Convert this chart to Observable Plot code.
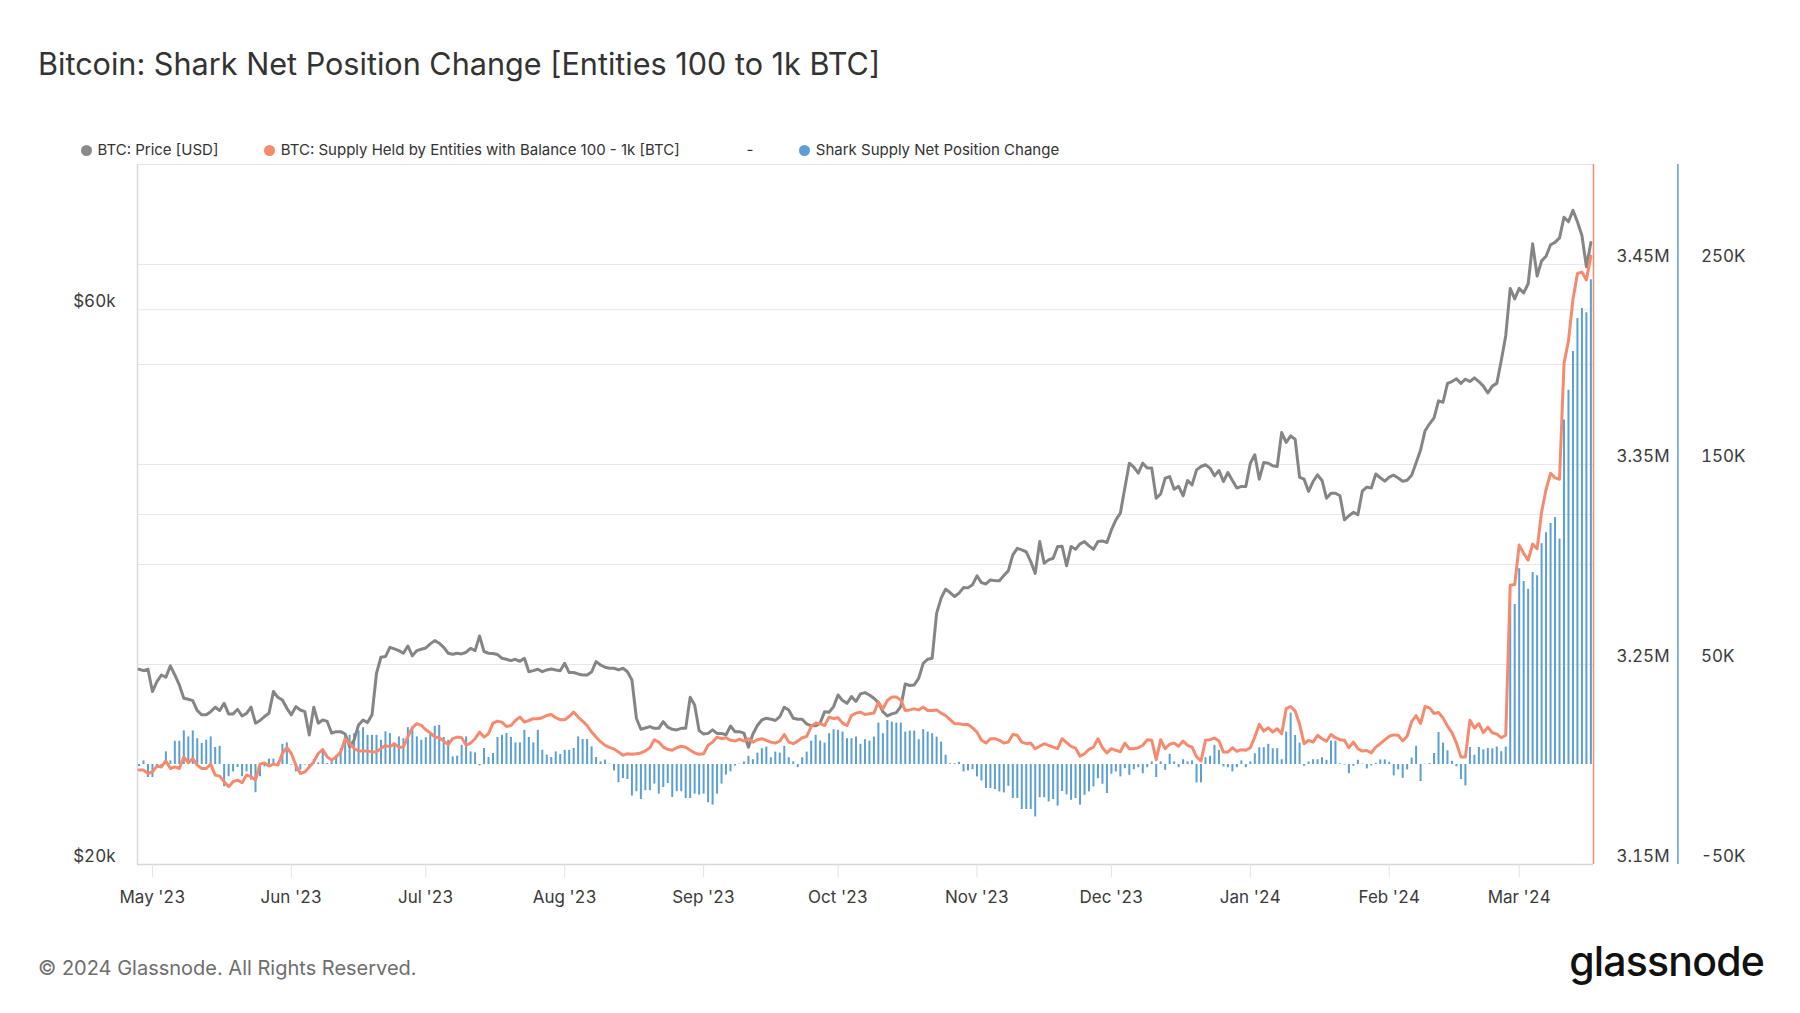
<!DOCTYPE html>
<html>
<head>
<meta charset="utf-8">
<script src="https://cdn.jsdelivr.net/npm/d3@7"></script>
<script src="https://cdn.jsdelivr.net/npm/@observablehq/plot@0.6"></script>
<style>
  html, body { margin: 0; padding: 0; background: #fff; }
  #page { position: relative; width: 1800px; height: 1013px; background: #fff; font-family: Inter, "Noto Sans", sans-serif; overflow: hidden; }
  #title { position: absolute; left: 38px; top: 46px; font-size: 30.6px; line-height: 36px; color: #333; white-space: nowrap; }
  .lg { position: absolute; top: 140px; height: 20px; line-height: 20px; font-size: 15px; color: #333; white-space: nowrap; }
  .dot { position: absolute; top: 4.5px; width: 11px; height: 11px; border-radius: 50%; }
  #chart { position: absolute; left: 0; top: 130px; }
  #footer { position: absolute; left: 38px; top: 954px; font-size: 20px; line-height: 28px; color: #6e6e6e; white-space: nowrap; }
  #logo { position: absolute; right: 36px; top: 936px; font-size: 41px; line-height: 50px; font-weight: 500; letter-spacing: -0.8px; color: #111; }
</style>
</head>
<body>
<div id="page">
  <div id="title">Bitcoin: Shark Net Position Change [Entities 100 to 1k BTC]</div>
  <div id="legend"></div>
  <div id="chart"></div>
  <div id="footer">© 2024 Glassnode. All Rights Reserved.</div>
  <div id="logo">glassnode</div>
</div>
<script>
// ---- data: daily values, 2023-04-28 .. 2024-03-17 ----
const startDate = "2023-04-28";
const endDateExclusive = "2024-03-18";

// BTC price, thousand USD
const priceK = [
  29.44, 29.36, 29.44, 28.17, 28.73, 29.11, 28.98, 29.64, 29.11, 28.54,
  27.80, 27.74, 27.67, 27.13, 26.90, 26.90, 27.07, 27.31, 27.13, 27.52,
  26.95, 26.95, 27.20, 26.84, 26.98, 27.31, 26.46, 26.60, 26.81, 26.98,
  28.17, 27.85, 27.70, 27.25, 26.90, 27.34, 27.16, 27.07, 25.85, 27.31,
  26.46, 26.63, 26.55, 25.94, 26.02, 26.02, 25.90, 25.26, 25.59, 26.37,
  26.63, 26.49, 26.90, 29.21, 30.15, 30.19, 30.75, 30.65, 30.55, 30.39,
  30.83, 30.23, 30.55, 30.63, 30.71, 30.96, 31.16, 31.00, 30.75, 30.39,
  30.33, 30.39, 30.35, 30.45, 30.69, 30.55, 31.45, 30.49, 30.39, 30.37,
  30.31, 30.09, 30.03, 29.95, 30.03, 29.91, 30.09, 29.30, 29.36, 29.44,
  29.30, 29.40, 29.46, 29.40, 29.36, 29.79, 29.25, 29.25, 29.17, 29.11,
  29.11, 29.28, 29.89, 29.69, 29.56, 29.50, 29.50, 29.40, 29.50, 29.30,
  28.82, 26.72, 26.14, 26.21, 26.28, 26.19, 26.19, 26.54, 26.25, 26.14,
  26.11, 26.19, 26.19, 27.85, 27.43, 26.07, 25.90, 25.93, 26.11, 25.93,
  25.93, 25.85, 26.31, 26.02, 26.02, 25.94, 25.23, 25.90, 26.34, 26.63,
  26.72, 26.67, 26.60, 26.81, 27.31, 27.16, 26.72, 26.67, 26.67, 26.42,
  26.32, 26.32, 26.46, 27.07, 27.04, 27.34, 27.98, 27.67, 27.52, 27.89,
  27.62, 28.04, 28.11, 27.98, 27.80, 27.56, 27.07, 26.84, 26.95, 27.02,
  27.34, 28.60, 28.51, 28.54, 28.92, 29.79, 30.03, 30.09, 32.90, 33.89,
  34.50, 34.27, 34.00, 34.23, 34.61, 34.59, 34.80, 35.42, 34.95, 34.86,
  35.14, 35.09, 35.09, 35.44, 35.79, 36.92, 37.41, 37.29, 37.14, 36.44,
  35.60, 37.91, 36.32, 36.56, 36.68, 37.54, 37.56, 36.14, 37.54, 37.34,
  37.74, 37.91, 37.59, 37.34, 37.91, 37.96, 37.84, 38.80, 39.58, 40.11,
  42.15, 44.28, 43.93, 43.41, 44.28, 43.85, 43.85, 41.31, 41.67, 42.98,
  43.12, 42.06, 42.29, 41.51, 42.79, 42.42, 43.70, 43.99, 44.14, 43.85,
  43.18, 43.64, 42.70, 43.47, 42.79, 42.15, 42.29, 42.29, 44.28, 45.02,
  42.90, 44.34, 44.28, 44.05, 43.99, 47.05, 46.13, 46.74, 46.43, 43.06,
  42.90, 41.87, 42.70, 43.27, 42.79, 41.31, 41.72, 41.72, 41.51, 39.58,
  39.90, 40.17, 39.98, 41.90, 42.23, 42.15, 43.34, 43.02, 42.73, 43.08,
  43.24, 43.00, 42.73, 42.81, 43.24, 44.31, 45.46, 47.22, 47.87, 48.44,
  50.10, 49.96, 51.86, 52.05, 52.33, 51.86, 52.29, 52.05, 52.43, 52.05,
  51.58, 50.88, 51.58, 51.86, 54.27, 57.00, 62.59, 61.30, 62.59, 62.03,
  63.17, 68.37, 64.15, 66.10, 66.71, 68.24, 68.56, 69.18, 72.07, 71.42,
  73.06, 71.42, 69.50, 65.33, 68.56
];

// Supply held by entities with balance 100 - 1k BTC, thousand BTC
const supplyK = [
  3197.3, 3197.2, 3195.5, 3196.3, 3199.2, 3198.8, 3201.8, 3198.0, 3198.8, 3198.0,
  3203.8, 3200.8, 3203.0, 3199.7, 3198.0, 3198.0, 3200.2, 3194.7, 3194.2, 3191.4,
  3188.9, 3191.4, 3192.2, 3190.9, 3194.7, 3193.9, 3192.2, 3200.2, 3200.8, 3199.2,
  3200.2, 3199.7, 3205.5, 3208.5, 3205.5, 3199.7, 3195.5, 3196.3, 3198.8, 3201.3,
  3205.5, 3207.5, 3203.8, 3202.2, 3203.8, 3206.3, 3212.9, 3210.5, 3208.0, 3206.8,
  3206.8, 3206.8, 3206.3, 3206.3, 3208.0, 3209.6, 3208.8, 3210.5, 3208.5, 3208.8,
  3213.8, 3218.4, 3220.4, 3219.6, 3217.4, 3215.8, 3213.8, 3213.4, 3211.7, 3209.9,
  3212.9, 3213.7, 3213.4, 3209.6, 3210.7, 3212.9, 3216.2, 3213.7, 3215.4, 3220.7,
  3221.7, 3221.2, 3219.0, 3219.5, 3222.0, 3223.7, 3221.2, 3222.0, 3222.9, 3222.9,
  3223.4, 3224.5, 3225.0, 3223.4, 3222.4, 3222.4, 3224.0, 3226.2, 3223.7, 3221.7,
  3219.5, 3216.2, 3213.7, 3211.4, 3209.6, 3208.6, 3207.7, 3206.3, 3204.6, 3205.4,
  3205.1, 3205.4, 3205.8, 3206.8, 3208.4, 3212.4, 3211.2, 3208.7, 3207.6, 3207.1,
  3208.4, 3209.1, 3208.6, 3207.1, 3205.8, 3205.1, 3205.4, 3209.6, 3211.2, 3213.7,
  3212.9, 3213.4, 3212.1, 3211.7, 3212.7, 3211.7, 3212.9, 3211.2, 3212.4, 3212.9,
  3212.1, 3211.2, 3210.7, 3211.7, 3215.0, 3211.2, 3210.4, 3211.7, 3213.4, 3214.0,
  3219.0, 3220.7, 3220.4, 3219.5, 3223.7, 3223.0, 3223.4, 3220.7, 3219.5, 3224.5,
  3225.7, 3226.2, 3225.0, 3225.4, 3225.7, 3231.2, 3227.8, 3232.0, 3233.7, 3233.7,
  3232.3, 3227.0, 3227.3, 3227.8, 3227.3, 3228.7, 3227.0, 3227.0, 3227.3, 3225.7,
  3224.5, 3222.4, 3220.4, 3220.4, 3220.0, 3220.0, 3218.4, 3216.2, 3212.1, 3210.7,
  3212.9, 3212.9, 3212.1, 3210.7, 3211.2, 3215.0, 3214.6, 3211.2, 3210.4, 3210.7,
  3207.9, 3209.1, 3210.4, 3209.6, 3208.7, 3207.9, 3212.9, 3210.9, 3209.1, 3208.2,
  3204.1, 3205.4, 3207.6, 3208.7, 3212.9, 3208.4, 3205.8, 3207.9, 3207.1, 3206.4,
  3210.7, 3207.9, 3207.9, 3208.4, 3209.6, 3212.4, 3212.1, 3202.4, 3212.4, 3207.9,
  3210.1, 3210.7, 3209.1, 3211.7, 3209.6, 3208.7, 3203.8, 3201.8, 3212.1, 3212.4,
  3213.2, 3211.7, 3206.2, 3206.2, 3208.4, 3206.6, 3207.4, 3207.1, 3208.4, 3213.7,
  3220.1, 3216.7, 3218.4, 3216.2, 3217.9, 3215.4, 3227.9, 3229.0, 3226.7, 3220.1,
  3210.4, 3212.1, 3211.2, 3214.6, 3212.9, 3211.7, 3215.0, 3213.4, 3212.4, 3212.1,
  3208.4, 3211.2, 3207.9, 3206.7, 3207.0, 3205.8, 3208.7, 3210.4, 3212.3, 3214.1,
  3214.8, 3214.6, 3211.8, 3214.1, 3221.4, 3224.4, 3220.5, 3229.0, 3228.3, 3225.5,
  3226.0, 3223.3, 3219.2, 3215.9, 3210.7, 3203.8, 3203.8, 3222.1, 3218.2, 3220.5,
  3215.9, 3218.7, 3215.9, 3215.2, 3213.4, 3214.6, 3289.6, 3290.0, 3309.7, 3305.6,
  3302.2, 3310.2, 3307.9, 3326.2, 3337.6, 3345.6, 3343.3, 3342.6, 3400.5, 3411.9,
  3432.5, 3445.5, 3446.2, 3442.3, 3454.2
];

// Shark supply net position change, thousand BTC
const netChangeK = [
  -1.0, 1.8, -6.5, -6.5, -1.2, -1.2, 6.3, 1.8, 11.6, 11.6,
  16.8, 13.8, 16.8, 12.9, 10.5, 12.1, 13.8, 8.5, 9.1, -11.1,
  -6.1, -3.7, -1.5, -6.1, -3.7, -7.8, -14.1, -6.1, -1.2, 2.7,
  2.7, 1.3, 10.1, 10.8, -0.3, -3.7, -2.8, -0.3, -1.2, 2.5,
  0.8, 6.6, 0.5, 2.5, 4.6, 8.0, 13.8, 14.6, 15.4, 16.8,
  18.4, 14.6, 14.6, 14.6, 12.1, 16.3, 15.4, 10.5, 13.8, 12.9,
  18.4, 17.9, 13.8, 12.1, 13.4, 15.8, 19.1, 19.6, 13.5, 12.1,
  3.8, 4.2, 9.6, 13.8, 6.3, 5.8, -0.7, 8.0, 3.5, 5.5,
  13.5, 14.6, 15.5, 13.5, 10.8, 10.8, 17.1, 13.5, 10.8, 17.1,
  7.1, 4.7, 3.5, 6.3, 5.0, 7.1, 7.1, 8.0, 13.8, 12.5,
  12.5, 8.8, 3.5, 1.3, 2.2, 0.2, -3.2, -9.1, -7.0, -7.5,
  -15.8, -13.6, -17.5, -13.1, -13.1, -9.8, -14.8, -11.5, -9.5, -16.5,
  -13.6, -13.6, -17.0, -17.0, -14.8, -15.3, -14.8, -19.1, -20.3, -14.8,
  -9.8, -5.3, -3.7, -0.8, 0.2, 1.3, 4.1, 2.4, 5.7, 7.9,
  8.7, 3.4, 6.2, 5.7, 9.1, 3.4, 1.3, -1.6, 3.4, 6.2,
  11.7, 14.6, 11.7, 10.7, 15.4, 17.4, 17.1, 16.2, 12.9, 12.9,
  13.7, 10.1, 12.4, 11.7, 13.7, 20.7, 15.4, 22.0, 21.2, 20.7,
  20.7, 16.2, 16.7, 16.7, 12.4, 17.4, 16.2, 15.4, 13.7, 11.2,
  4.6, 0.4, 0.4, 1.1, -3.7, -3.2, -2.6, -6.2, -8.2, -12.0,
  -12.0, -12.5, -13.7, -14.2, -10.9, -17.0, -17.0, -22.5, -22.5, -22.5,
  -26.2, -16.6, -16.6, -18.7, -17.5, -20.8, -13.5, -15.2, -17.9, -17.0,
  -20.3, -15.4, -13.7, -11.2, -7.1, -9.9, -14.5, -4.9, -3.7, -6.2,
  -2.1, -5.4, -2.6, -1.6, -4.6, -1.6, 1.3, -6.5, 1.3, -2.9,
  5.1, 1.3, -1.6, 2.4, 1.3, 1.8, -9.2, -9.2, 3.4, 4.1,
  9.6, 7.1, -1.2, -1.6, -3.7, -1.6, 1.8, -1.6, 1.3, 5.4,
  8.4, 8.4, 10.1, 7.9, 7.9, 2.4, 16.2, 25.7, 14.5, 10.7,
  -0.9, 1.3, 2.4, 2.4, 3.4, 2.1, 11.7, 11.7, 0.3, -0.3,
  -4.6, -0.9, 2.1, 0.2, -2.2, -0.7, 0.5, 2.3, 2.3, 1.1,
  -5.7, -2.7, -6.9, -2.7, 3.2, 9.1, -8.5, 0.1, 0.5, 5.5,
  16.0, 10.7, 6.9, 1.6, -1.1, -7.5, -10.7, 8.5, 4.6, 8.5,
  7.3, 8.0, 7.8, 8.7, 6.4, 8.7, 81.6, 80.0, 97.9, 91.5,
  87.6, 96.0, 94.4, 110.4, 115.9, 120.5, 123.5, 112.7, 172.2, 187.1,
  206.5, 223.0, 228.0, 225.9, 242.4
];

// axes / ticks
const priceDomain = [20000, 80000];
const supplyDomainK = [3150, 3500];
const netDomainK = [-50, 300];
const priceTicks = [20000, 60000];
const priceGrid = [40000, 60000];
const supplyTicksK = [3150, 3250, 3350, 3450];
const netTicksK = [-50, 50, 150, 250];
const netGridK = [50, 100, 150, 200, 250];

const legendItems = [
  {label: "BTC: Price [USD]", color: "#8a8a8a"},
  {label: "BTC: Supply Held by Entities with Balance 100 - 1k [BTC]", color: "#f58a6e"},
  {label: "-", color: null},
  {label: "Shark Supply Net Position Change", color: "#5b9fd3"}
];

const GRAY = "#858585", ORANGE = "#f58a6e", BLUE = "#5b9fd3";

// ---- build ----
const dates = d3.utcDay.range(new Date(startDate + "T00:00Z"), new Date(endDateExclusive + "T00:00Z"));
const rows = dates.map((date, i) => ({date, price: priceK[i] * 1000, supply: supplyK[i], net: netChangeK[i]}));

// each series has its own axis; map all onto a shared normalized y
const nPrice = d3.scaleLog(priceDomain, [0, 1]);
const nSupply = d3.scaleLinear(supplyDomainK, [0, 1]);
const nNet = d3.scaleLinear(netDomainK, [0, 1]);

const x0 = d3.utcHour.offset(dates[0], -8);
const x1 = d3.utcHour.offset(dates[dates.length - 1], 14);

const gridN = [...priceGrid.map(nPrice), ...netGridK.map(nNet)];

const chart = Plot.plot({
  width: 1800,
  height: 800,
  marginTop: 34,
  marginBottom: 66,
  marginLeft: 137,
  marginRight: 207,
  style: {fontFamily: "Inter, 'Noto Sans', sans-serif", fontSize: "17px", color: "#3a3a3a", background: "transparent", overflow: "visible"},
  x: {type: "utc", domain: [x0, x1]},
  y: {domain: [0, 1]},
  marks: [
    Plot.ruleY(gridN, {stroke: "#e8e8e8", strokeWidth: 1}),
    Plot.ruleY([1], {stroke: "#e4e4e4", strokeWidth: 1}),
    Plot.ruleX([x0], {stroke: "#d9d9d9", strokeWidth: 1.5}),
    Plot.ruleX(rows, {x: "date", y1: () => nNet(0), y2: d => nNet(d.net), stroke: BLUE, strokeWidth: 2}),
    Plot.line(rows, {x: "date", y: d => nPrice(d.price), stroke: GRAY, strokeWidth: 3, strokeLinejoin: "round"}),
    Plot.line(rows, {x: "date", y: d => nSupply(d.supply), stroke: ORANGE, strokeWidth: 3, strokeLinejoin: "round"}),
    Plot.ruleY([0], {stroke: "#d6d6d6", strokeWidth: 1.5}),
    Plot.ruleX([x1], {stroke: ORANGE, strokeWidth: 1.5}),
    Plot.ruleX([x1], {dx: 84.4, stroke: BLUE, strokeWidth: 1.5}),
    Plot.axisX(d3.utcMonth.range(x0, x1), {
      tickFormat: d3.utcFormat("%b '%y"), tickSize: 13, tickPadding: 13,
      stroke: "#e2e2e2", fill: "#3a3a3a", label: null
    }),
    Plot.axisY(priceTicks.map(nPrice), {
      anchor: "left", tickSize: 0, tickPadding: 22, dy: -8, fill: "#3a3a3a", label: null,
      tickFormat: v => "$" + Math.round(nPrice.invert(v) / 1000) + "k"
    }),
    Plot.axisY(supplyTicksK.map(nSupply), {
      anchor: "right", tickSize: 0, tickPadding: 23, dy: -8, fill: "#3a3a3a", label: null,
      tickFormat: v => (nSupply.invert(v) / 1000).toFixed(2) + "M"
    }),
    Plot.axisY(netTicksK.map(nNet), {
      anchor: "right", tickSize: 0, tickPadding: 23, dx: 84.4, dy: -8, fill: "#3a3a3a", label: null,
      tickFormat: v => Math.round(nNet.invert(v)) + "K"
    })
  ]
});
document.getElementById("chart").appendChild(chart);

// legend
const legendLeft = [80.5, 263.8, 746.5, 798.8];
const lg = document.getElementById("legend");
legendItems.forEach((it, i) => {
  const el = document.createElement("div");
  el.className = "lg";
  el.style.left = legendLeft[i] + "px";
  if (it.color) {
    const dot = document.createElement("span");
    dot.className = "dot";
    dot.style.left = "0px";
    dot.style.background = it.color;
    el.appendChild(dot);
    const t = document.createElement("span");
    t.style.marginLeft = "17px";
    t.textContent = it.label;
    el.appendChild(t);
  } else {
    el.textContent = it.label;
  }
  lg.appendChild(el);
});
</script>
</body>
</html>
